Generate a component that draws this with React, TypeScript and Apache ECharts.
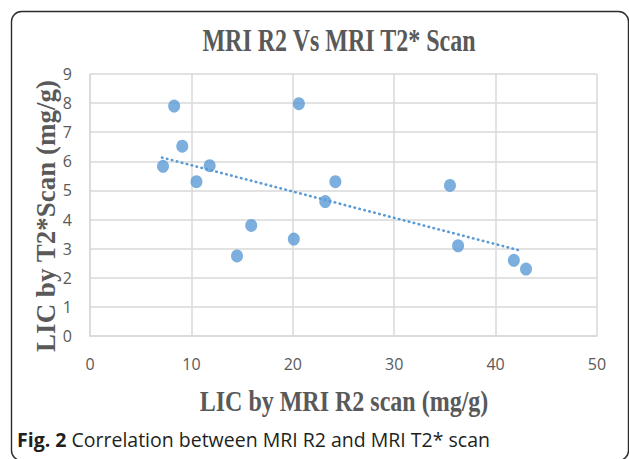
import React, { useEffect, useRef } from "react";
import * as echarts from "echarts";

const xValues = [7.2, 8.3, 9.1, 10.5, 11.8, 14.5, 15.9, 20.1, 20.6, 23.2, 24.2, 35.5, 36.3, 41.8, 43.0];
const yValues = [5.83, 7.9, 6.52, 5.3, 5.85, 2.75, 3.8, 3.33, 7.98, 4.62, 5.3, 5.17, 3.1, 2.6, 2.3];
const trendX = [7.1, 42.6];
const trendY = [6.13, 2.92];

const xTicks = { min: 0, max: 50, interval: 10 };
const yTicks = { min: 0, max: 9, interval: 1 };

const titleText = "MRI R2 Vs MRI T2* Scan";
const xName = "LIC by MRI R2 scan (mg/g)";
const yName = "LIC by T2*Scan (mg/g)";
const captionBold = "Fig. 2";
const captionRest = " Correlation between MRI R2 and MRI T2* scan";

export default function App() {
  const ref = useRef<HTMLDivElement>(null);
  useEffect(() => {
    if (!ref.current) return;
    const chart = echarts.init(ref.current, undefined, { renderer: "svg" });
    const gridColor = "#d9d9d9";
    const labelColor = "#595959";
    const serif = '"Liberation Serif", "Times New Roman", serif';
    chart.setOption({
      animation: false,
      backgroundColor: "#ffffff",
      grid: { left: 90, right: 32, top: 74, bottom: 123, containLabel: false },
      xAxis: {
        type: "value",
        min: xTicks.min,
        max: xTicks.max,
        interval: xTicks.interval,
        axisLine: { show: true, lineStyle: { color: gridColor, width: 1.5 } },
        axisTick: { show: false },
        splitLine: { show: true, lineStyle: { color: gridColor, width: 1.5 } },
        axisLabel: { color: labelColor, fontSize: 16, fontFamily: '"Open Sans", sans-serif', margin: 20 },
      },
      yAxis: {
        type: "value",
        min: yTicks.min,
        max: yTicks.max,
        interval: yTicks.interval,
        axisLine: { show: true, lineStyle: { color: gridColor, width: 1.5 } },
        axisTick: { show: false },
        splitLine: { show: true, lineStyle: { color: gridColor, width: 1.5 } },
        axisLabel: { color: labelColor, fontSize: 16, fontFamily: '"Open Sans", sans-serif', margin: 18 },
      },
      series: [
        {
          type: "scatter",
          data: xValues.map((x, i) => [x, yValues[i]]),
          symbol: "circle",
          symbolSize: [12, 13],
          itemStyle: { color: "#5b9bd5" },
          z: 2,
        },
        {
          type: "line",
          data: trendX.map((x, i) => [x, trendY[i]]),
          showSymbol: false,
          symbol: "none",
          lineStyle: { color: "#5b9bd5", width: 2.6, type: [0.5, 4.6], cap: "round" },
          z: 3,
        },
      ],
      graphic: [
        {
          type: "rect",
          shape: { x: 11.5, y: 11.5, width: 617, height: 449, r: 10 },
          style: { fill: "none", stroke: "#2b2b2b", lineWidth: 1.4 },
          silent: true,
        },
        {
          type: "text",
          x: 339,
          y: 40,
          scaleY: 1.3,
          style: {
            text: titleText,
            font: `bold 24px ${serif}`,
            fill: labelColor,
            align: "center",
            verticalAlign: "middle",
            textAlign: "center",
            textVerticalAlign: "middle",
          },
        },
        {
          type: "text",
          x: 344,
          y: 401,
          scaleY: 1.25,
          style: {
            text: xName,
            font: `bold 24px ${serif}`,
            fill: labelColor,
            align: "center",
            verticalAlign: "middle",
            textAlign: "center",
            textVerticalAlign: "middle",
          },
        },
        {
          type: "text",
          x: 46,
          y: 216,
          rotation: Math.PI / 2,
          style: {
            text: yName,
            font: `bold 27px ${serif}`,
            fill: labelColor,
            align: "center",
            verticalAlign: "middle",
            textAlign: "center",
            textVerticalAlign: "middle",
          },
        },
        {
          type: "text",
          x: 17,
          y: 439,
          style: {
            text: `{b|${captionBold}}${captionRest}`,
            font: '19.5px "Open Sans", sans-serif',
            fill: "#231f20",
            align: "left",
            verticalAlign: "middle",
            textAlign: "left",
            textVerticalAlign: "middle",
            rich: {
              b: { fontWeight: "bold", fontSize: 19.5, fontFamily: '"Open Sans", sans-serif', fill: "#231f20", color: "#231f20" },
            },
          },
        },
      ],
    });
    return () => chart.dispose();
  }, []);
  return <div ref={ref} style={{ position: "fixed", left: 0, top: 0, width: 629, height: 459 }} />;
}
